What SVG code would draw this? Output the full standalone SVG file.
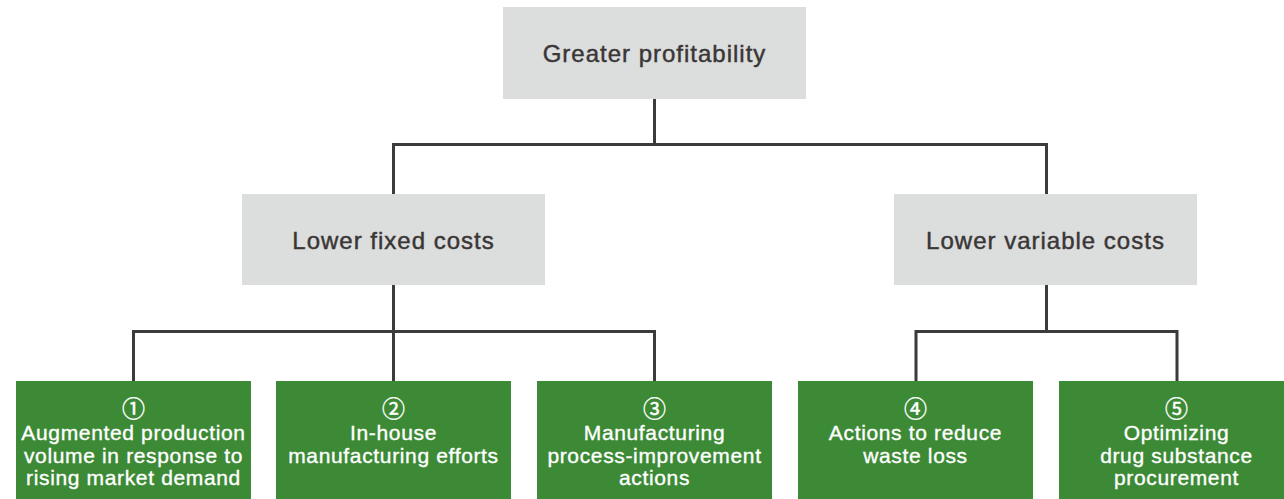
<svg xmlns="http://www.w3.org/2000/svg" width="1284" height="499" viewBox="0 0 1284 499">
<style>
.gray{fill:#dcdddd}
.green{fill:#3d8a36}
.gt{font-family:"Liberation Sans",Arial,sans-serif;font-size:24px;letter-spacing:1px;fill:#3a3636;stroke:#3a3636;stroke-width:0.45;text-anchor:middle}
.wt{font-family:"Liberation Sans",Arial,sans-serif;font-size:21px;letter-spacing:0.65px;fill:#fff;stroke:#fff;stroke-width:0.35;text-anchor:middle}
.num{font-family:"Noto Sans CJK SC","DejaVu Sans",sans-serif;font-size:23px;fill:#fff;stroke:#fff;stroke-width:0.4;text-anchor:middle}
.conn{fill:none;stroke:#3d3a3a;stroke-width:3;stroke-linejoin:miter}
</style>
<rect width="1284" height="499" fill="#fff"/>
<g id="connectors">
<path class="conn" d="M654.5 99 V144.5 M393.5 194 V144.5 H1046.5 V194"/>
<path class="conn" d="M393.5 285 V381 M133.5 381 V331.5 H654.5 V381"/>
<path class="conn" d="M1046.5 285 V331.5 M916 381 V331.5 H1177 V381"/>
</g>
<g id="n-top">
<rect class="gray" x="503" y="7" width="303" height="92"/>
<text class="gt" x="654.5" y="62">Greater profitability</text>
</g>
<g id="n-fixed">
<rect class="gray" x="242" y="194" width="303" height="91"/>
<text class="gt" x="393.5" y="249">Lower fixed costs</text>
</g>
<g id="n-variable">
<rect class="gray" x="894" y="194" width="303" height="91"/>
<text class="gt" x="1045.5" y="249">Lower variable costs</text>
</g>
<g id="n1">
<rect class="green" x="16" y="381" width="235" height="118"/>
<text class="num" x="133.5" y="417">①</text>
<text class="wt" x="133.5" y="440">Augmented production</text>
<text class="wt" x="133.5" y="463">volume in response to</text>
<text class="wt" x="133.5" y="485">rising market demand</text>
</g>
<g id="n2">
<rect class="green" x="276" y="381" width="235" height="118"/>
<text class="num" x="393.5" y="417">②</text>
<text class="wt" x="393.5" y="440">In-house</text>
<text class="wt" x="393.5" y="463">manufacturing efforts</text>
</g>
<g id="n3">
<rect class="green" x="537" y="381" width="235" height="118"/>
<text class="num" x="654.5" y="417">③</text>
<text class="wt" x="654.5" y="440">Manufacturing</text>
<text class="wt" x="654.5" y="463">process-improvement</text>
<text class="wt" x="654.5" y="485">actions</text>
</g>
<g id="n4">
<rect class="green" x="798" y="381" width="235" height="118"/>
<text class="num" x="915.5" y="417">④</text>
<text class="wt" x="915.5" y="440">Actions to reduce</text>
<text class="wt" x="915.5" y="463">waste loss</text>
</g>
<g id="n5">
<rect class="green" x="1059" y="381" width="235" height="118"/>
<text class="num" x="1176.5" y="417">⑤</text>
<text class="wt" x="1176.5" y="440">Optimizing</text>
<text class="wt" x="1176.5" y="463">drug substance</text>
<text class="wt" x="1176.5" y="485">procurement</text>
</g>
</svg>
